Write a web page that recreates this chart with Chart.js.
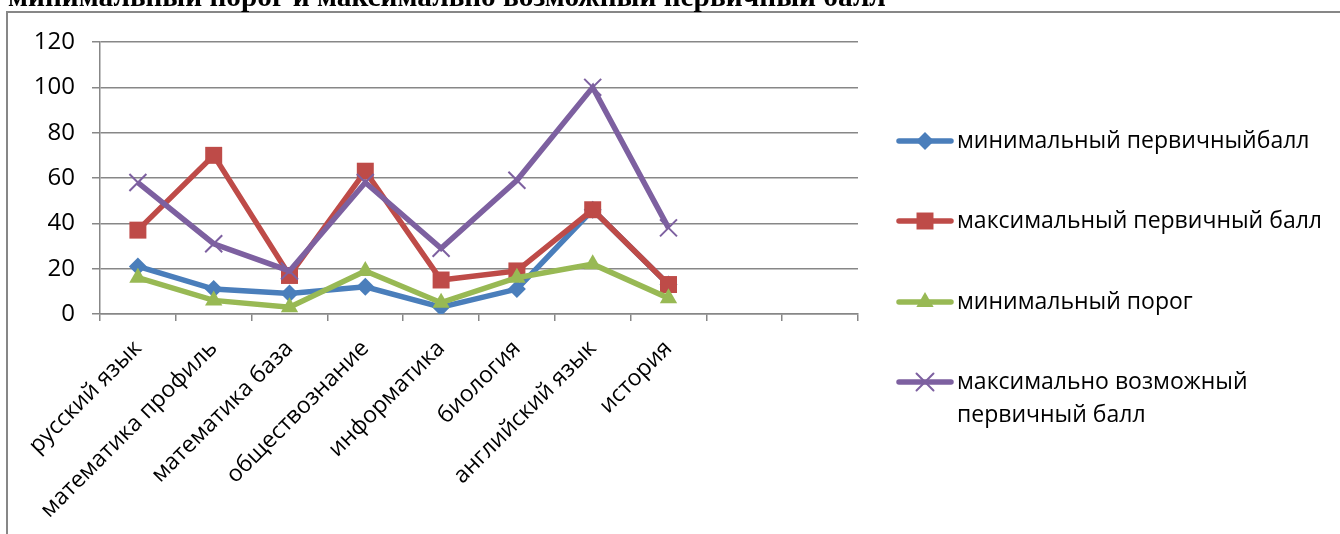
<!DOCTYPE html>
<html>
<head>
<meta charset="utf-8">
<script src="https://cdn.jsdelivr.net/npm/chart.js"></script>
<style>
  html, body { margin: 0; padding: 0; background: #fff; }
  #wrap { position: relative; width: 1340px; height: 534px; overflow: hidden; }
</style>
</head>
<body>
<div id="wrap"><canvas id="myChart" width="1340" height="534"></canvas></div>
<script>
var titleText = "минимальный порог и максимально возможный первичный балл";

var xValues = ["русский язык", "математика профиль", "математика база", "обществознание",
               "информатика", "биология", "английский язык", "история", "", ""];
var yTicks = [0, 20, 40, 60, 80, 100, 120];

var minPrimary   = [21, 11, 9, 12, 3, 11, 46, 13, null, null];
var maxPrimary   = [37, 70, 17, 63, 15, 19, 46, 13, null, null];
var minThreshold = [16, 6, 3, 19, 5, 16, 22, 7, null, null];
var maxPossible  = [58, 31, 19, 58, 29, 59, 100, 38, null, null];

var seriesNames = ["минимальный первичныйбалл", "максимальный первичный балл",
                   "минимальный порог", ["максимально возможный", "первичный балл"]];
var seriesColors = ["#4a7ebb", "#be4b48", "#98b954", "#7d60a0"];

var FONT = '"Open Sans", "Noto Sans", sans-serif';
var GRID = "#878787";

// little marker painter, used for the legend
function marker(ctx, style, x, y, r, color) {
  ctx.save();
  ctx.fillStyle = color;
  ctx.strokeStyle = color;
  ctx.beginPath();
  if (style === "rectRot") {
    ctx.moveTo(x, y - r); ctx.lineTo(x + r, y); ctx.lineTo(x, y + r); ctx.lineTo(x - r, y);
    ctx.closePath(); ctx.fill();
  } else if (style === "rect") {
    var s = r * Math.SQRT1_2;
    ctx.rect(x - s, y - s, 2 * s, 2 * s); ctx.fill();
  } else if (style === "triangle") {
    ctx.moveTo(x, y - r);
    ctx.lineTo(x + r * Math.sin(2 * Math.PI / 3), y - r * Math.cos(2 * Math.PI / 3));
    ctx.lineTo(x - r * Math.sin(2 * Math.PI / 3), y - r * Math.cos(2 * Math.PI / 3));
    ctx.closePath(); ctx.fill();
  } else {
    var d = r * Math.SQRT1_2;
    ctx.lineWidth = 2;
    ctx.moveTo(x - d, y - d); ctx.lineTo(x + d, y + d);
    ctx.moveTo(x + d, y - d); ctx.lineTo(x - d, y + d);
    ctx.stroke();
  }
  ctx.restore();
}

var framePlugin = {
  id: "frame",
  beforeDraw: function (chart) {
    var ctx = chart.ctx;
    ctx.save();
    ctx.strokeStyle = GRID;
    ctx.lineWidth = 2;
    ctx.beginPath();
    ctx.moveTo(7, 540);
    ctx.lineTo(7, 12);
    ctx.lineTo(1345, 12);
    ctx.stroke();
    // title, cut off at the top like in the scan
    ctx.font = 'bold 100px "Liberation Serif", "Times New Roman", serif';
    var w = ctx.measureText(titleText).width;
    ctx.font = 'bold ' + (100 * 878 / w).toFixed(2) + 'px "Liberation Serif", "Times New Roman", serif';
    ctx.fillStyle = "#000";
    ctx.textBaseline = "alphabetic";
    ctx.fillText(titleText, 8, 6);
    ctx.restore();
  }
};

var legendPlugin = {
  id: "sideLegend",
  afterDraw: function (chart) {
    var ctx = chart.ctx;
    var rows = [141, 221, 302, 382];
    ctx.save();
    chart.data.datasets.forEach(function (ds, i) {
      var y = rows[i];
      ctx.strokeStyle = ds.borderColor;
      ctx.lineWidth = ds.borderWidth;
      ctx.lineCap = "round";
      ctx.beginPath();
      ctx.moveTo(899, y);
      ctx.lineTo(951, y);
      ctx.stroke();
      marker(ctx, ds.pointStyle, 925, y, ds.pointRadius, ds.borderColor);
      ctx.fillStyle = "#000";
      ctx.font = "23px " + FONT;
      ctx.textBaseline = "middle";
      var lines = [].concat(ds.label);
      lines.forEach(function (t, k) {
        ctx.fillText(t, 957, y + k * 33);
      });
    });
    ctx.restore();
  }
};

function series(i, data, style, radius, order) {
  return {
    label: seriesNames[i],
    data: data,
    borderColor: seriesColors[i],
    backgroundColor: seriesColors[i],
    borderWidth: 5.5,
    pointStyle: style,
    pointRadius: radius,
    pointHoverRadius: radius,
    pointBorderWidth: style === "crossRot" ? 2 : 0,
    tension: 0,
    order: order
  };
}

new Chart("myChart", {
  type: "line",
  data: {
    labels: xValues,
    datasets: [
      series(0, minPrimary, "rectRot", 9, 4),
      series(1, maxPrimary, "rect", 12, 3),
      series(2, minThreshold, "triangle", 10, 2),
      series(3, maxPossible, "crossRot", 12, 1)
    ]
  },
  plugins: [framePlugin, legendPlugin],
  options: {
    responsive: false,
    animation: false,
    devicePixelRatio: 1,
    layout: { padding: { left: 0, top: 42, right: 482, bottom: 0 } },
    plugins: { legend: { display: false }, tooltip: { enabled: false } },
    scales: {
      x: {
        type: "category",
        offset: true,
        grid: { display: true, drawOnChartArea: false, drawTicks: true, tickLength: 7, color: GRID, lineWidth: 1.5, offset: true },
        border: { display: true, color: GRID, width: 1.5 },
        ticks: { autoSkip: false, maxRotation: 45, minRotation: 45, padding: 14, color: "#000", font: { family: FONT, size: 23 } },
        afterFit: function (s) { s.height = 220; }
      },
      y: {
        min: 0,
        max: 120,
        afterBuildTicks: function (s) { s.ticks = yTicks.map(function (v) { return { value: v }; }); },
        grid: { color: GRID, lineWidth: 1.5, tickLength: 8 },
        border: { display: true, color: GRID, width: 1.5 },
        ticks: { padding: 17, color: "#000", font: { family: FONT, size: 24 } },
        afterFit: function (s) { s.width = 100; }
      }
    }
  }
});
</script>
</body>
</html>
